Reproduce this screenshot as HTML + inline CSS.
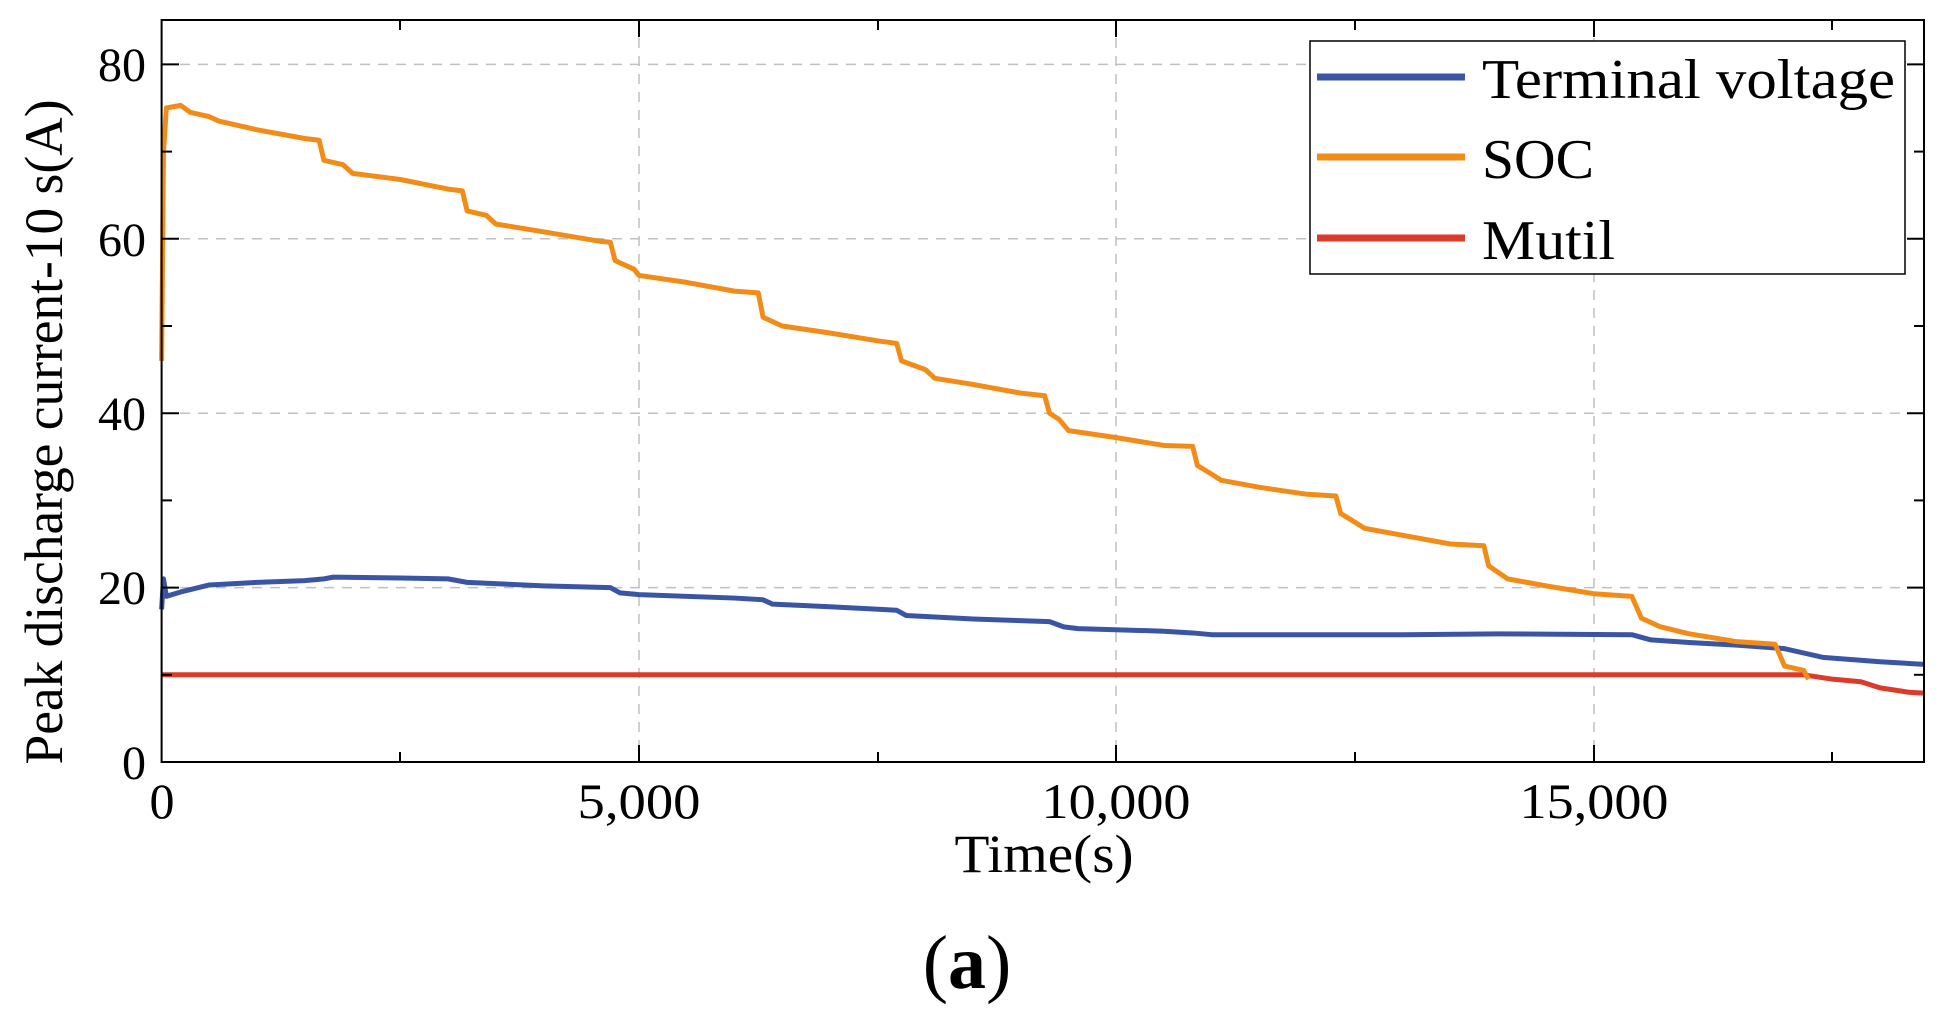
<!DOCTYPE html>
<html><head><meta charset="utf-8"><style>
body{margin:0;background:#fff;}
svg text{font-family:"Liberation Serif",serif;fill:#000;}
</style></head><body>
<svg width="1939" height="1015" viewBox="0 0 1939 1015" xmlns="http://www.w3.org/2000/svg">
<rect width="1939" height="1015" fill="#fff"/>
<g stroke="#c0c0c0" stroke-width="1.5" stroke-dasharray="10,8">
<line x1="639" y1="20" x2="639" y2="762"/>
<line x1="1116" y1="20" x2="1116" y2="762"/>
<line x1="1594" y1="20" x2="1594" y2="762"/>
<line x1="162" y1="587.6" x2="1924" y2="587.6"/>
<line x1="162" y1="413.2" x2="1924" y2="413.2"/>
<line x1="162" y1="238.8" x2="1924" y2="238.8"/>
<line x1="162" y1="64.4" x2="1924" y2="64.4"/>
</g>
<g transform="translate(161.6,762) scale(0.09547,-8.72)" fill="none" stroke-width="5" stroke-linejoin="round">
<polyline vector-effect="non-scaling-stroke" stroke="#3a55a4" points="0,17.5 20,21 50,19 200,19.5 500,20.3 1000,20.6 1500,20.8 1700,21 1800,21.2 2500,21.1 3000,21 3200,20.6 4000,20.2 4700,20 4800,19.4 5000,19.2 6000,18.8 6300,18.6 6400,18.1 7000,17.8 7700,17.4 7800,16.8 8500,16.4 9300,16.1 9450,15.5 9600,15.3 10500,15 10800,14.8 11000,14.6 12000,14.6 13000,14.6 14000,14.7 15400,14.6 15600,14 16000,13.7 16500,13.4 17000,13 17200,12.5 17400,12 18000,11.5 18460,11.2"/>
<polyline vector-effect="non-scaling-stroke" stroke="#dd3b2a" points="0,10 17200,10 17500,9.5 17800,9.2 18000,8.5 18300,8 18460,7.9"/>
<polyline vector-effect="non-scaling-stroke" stroke="#f28c18" points="0,46 20,70 50,75 200,75.3 300,74.5 500,74 600,73.5 1000,72.5 1500,71.5 1650,71.3 1700,69 1900,68.5 2000,67.5 2500,66.8 3000,65.7 3150,65.5 3200,63.2 3400,62.7 3500,61.7 4000,60.8 4600,59.7 4700,59.6 4750,57.5 4950,56.5 5000,55.8 5500,55 6000,54 6250,53.8 6300,51 6500,50 7000,49.2 7500,48.3 7700,48 7750,46 8000,45 8100,44 8500,43.3 9000,42.3 9250,42 9300,40 9400,39.3 9500,38 10000,37.2 10500,36.3 10800,36.2 10850,34 11000,33 11100,32.3 11500,31.5 12000,30.7 12300,30.5 12350,28.5 12500,27.5 12600,26.8 13000,26 13500,25 13850,24.8 13900,22.5 14100,21 14500,20.2 15000,19.3 15400,19 15500,16.5 15700,15.5 16000,14.7 16500,13.8 16900,13.5 17000,11 17200,10.5 17250,9.5"/>
</g>
<g stroke="#000" stroke-width="2">
<rect x="161.6" y="20" width="1762.4" height="742" fill="none"/>
<line x1="400" y1="762" x2="400" y2="752"/><line x1="639" y1="762" x2="639" y2="745"/><line x1="878" y1="762" x2="878" y2="752"/><line x1="1116" y1="762" x2="1116" y2="745"/><line x1="1355" y1="762" x2="1355" y2="752"/><line x1="1594" y1="762" x2="1594" y2="745"/><line x1="1832" y1="762" x2="1832" y2="752"/>
<line x1="400" y1="20" x2="400" y2="30"/><line x1="639" y1="20" x2="639" y2="37"/><line x1="878" y1="20" x2="878" y2="30"/><line x1="1116" y1="20" x2="1116" y2="37"/><line x1="1355" y1="20" x2="1355" y2="30"/><line x1="1594" y1="20" x2="1594" y2="37"/><line x1="1832" y1="20" x2="1832" y2="30"/>
<line x1="162" y1="587.6" x2="179" y2="587.6"/><line x1="162" y1="413.2" x2="179" y2="413.2"/><line x1="162" y1="238.8" x2="179" y2="238.8"/><line x1="162" y1="64.4" x2="179" y2="64.4"/>
<line x1="162" y1="674.8" x2="172" y2="674.8"/><line x1="162" y1="500.4" x2="172" y2="500.4"/><line x1="162" y1="326" x2="172" y2="326"/><line x1="162" y1="151.6" x2="172" y2="151.6"/>
<line x1="1924" y1="587.6" x2="1907" y2="587.6"/><line x1="1924" y1="413.2" x2="1907" y2="413.2"/><line x1="1924" y1="238.8" x2="1907" y2="238.8"/><line x1="1924" y1="64.4" x2="1907" y2="64.4"/>
<line x1="1924" y1="674.8" x2="1914" y2="674.8"/><line x1="1924" y1="500.4" x2="1914" y2="500.4"/><line x1="1924" y1="326" x2="1914" y2="326"/><line x1="1924" y1="151.6" x2="1914" y2="151.6"/>
</g>
<rect x="1310" y="41" width="595" height="233" fill="#fff" stroke="#000" stroke-width="1.5"/>
<line x1="1317" y1="77" x2="1465" y2="77" stroke="#3a55a4" stroke-width="7"/>
<line x1="1317" y1="157" x2="1465" y2="157" stroke="#f28c18" stroke-width="7"/>
<line x1="1317" y1="238" x2="1465" y2="238" stroke="#dd3b2a" stroke-width="7"/>
<g font-size="56">
<text x="1482" y="98" textLength="413" lengthAdjust="spacingAndGlyphs">Terminal voltage</text>
<text x="1482" y="178" textLength="112" lengthAdjust="spacingAndGlyphs">SOC</text>
<text x="1482" y="259" textLength="133" lengthAdjust="spacingAndGlyphs">Mutil</text>
</g>
<g font-size="48" text-anchor="end">
<text x="146" y="779">0</text>
<text x="146" y="604">20</text>
<text x="146" y="430">40</text>
<text x="146" y="256">60</text>
<text x="146" y="81">80</text>
</g>
<g font-size="50" text-anchor="middle">
<text x="162" y="818">0</text>
<text x="639" y="818" textLength="123" lengthAdjust="spacingAndGlyphs">5,000</text>
<text x="1116" y="818" textLength="149" lengthAdjust="spacingAndGlyphs">10,000</text>
<text x="1594" y="818" textLength="149" lengthAdjust="spacingAndGlyphs">15,000</text>
<text x="1044" y="872" font-size="54" textLength="179" lengthAdjust="spacingAndGlyphs">Time(s)</text>
<text x="967" y="988" font-size="76">(<tspan font-weight="bold">a</tspan>)</text>
</g>
<text transform="translate(62,432) rotate(-90)" font-size="54" text-anchor="middle" textLength="665" lengthAdjust="spacingAndGlyphs">Peak discharge current-10 s(A)</text>
</svg>
</body></html>
